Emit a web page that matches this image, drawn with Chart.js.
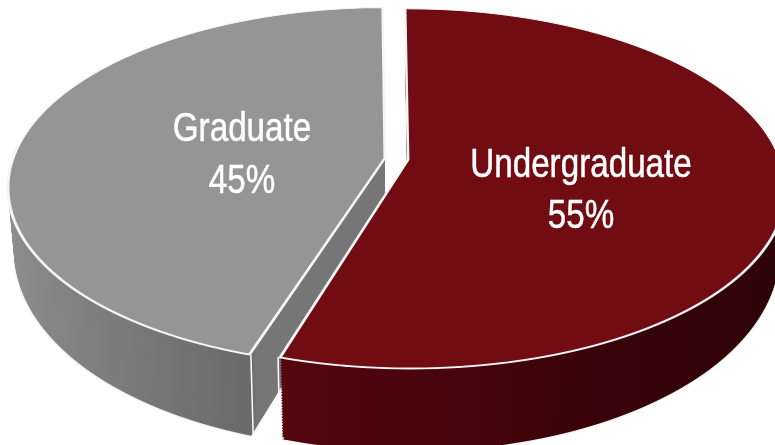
<!DOCTYPE html>
<html>
<head>
<meta charset="utf-8">
<title>Undergraduate / Graduate</title>
<script src="https://cdn.jsdelivr.net/npm/chart.js@4"></script>
<style>
html,body{margin:0;padding:0;background:#fff;overflow:hidden}
canvas{display:block}
</style>
</head>
<body>
<canvas id="pie" width="775" height="445"></canvas>
<script>
// === Data ===
const categories = ['Undergraduate','Graduate'];
const shares = [55,45];
const topColors = ['#710c13','#959595'];

// === Perspective of the pie (top ring and bottom ring) ===
const K = 0.16;              // perspective strength
const CX = 396.5;
const TOP = {cy:159, rx:372, ry:175};
const BOTTOM = {cy:222, rx:366, ry:192};
const LEVELS = 30;

function ring(d){
  return {
    cy:TOP.cy+(BOTTOM.cy-TOP.cy)*d,
    rx:TOP.rx+(BOTTOM.rx-TOP.rx)*d,
    ry:TOP.ry+(BOTTOM.ry-TOP.ry)*d
  };
}
// radius ArcElement really draws with once offset is set
function fullRadius(arc){
  const fix=1-Math.sin(Math.min(Math.PI,arc.circumference));
  return arc.outerRadius+(arc.options.offset||0)/4*fix;
}

// draw one arc element of the chart through the projection, row by row
function paintArc(ctx,arc,d,step,opts){
  const r=ring(d), Rs=fullRadius(arc), saved=arc.options;
  arc.options=Object.assign({},saved,opts);
  const y0=Math.floor(r.cy-r.ry/(1+K))-6, y1=Math.ceil(r.cy+r.ry/(1-K))+6;
  for(let y=y0;y<y1;y+=step){
    const t=y+step/2-r.cy, v=t/(r.ry+K*t), q=1-K*v;
    const a=r.rx/q/Rs, e=r.ry/(q*q)/Rs;
    ctx.save();
    ctx.beginPath(); ctx.rect(0,y,775,step); ctx.clip();
    ctx.setTransform(a,0,0,e,CX-a*arc.x,y+step/2-e*(arc.y+v*Rs));
    arc.draw(ctx);
    ctx.restore();
  }
  arc.options=saved;
}

// where a rim point of an arc lands on a given ring
function project(arc,angle,d){
  const r=ring(d), Rs=fullRadius(arc), o=(arc.options.offset||0)/4;
  const mid=(arc.startAngle+arc.endAngle)/2;
  const u=(Math.cos(mid)*o+Rs*Math.cos(angle))/Rs, v=(Math.sin(mid)*o+Rs*Math.sin(angle))/Rs;
  const q=1-K*v;
  return {x:CX+r.rx*u/q, y:r.cy+r.ry*v/q};
}

function wallGradient(ctx,arc,stops){
  const Rs=fullRadius(arc), g=ctx.createLinearGradient(arc.x-Rs,0,arc.x+Rs,0);
  stops.forEach(s=>g.addColorStop(s[0],s[1]));
  return g;
}
const wallStops = [
  [[0.36,'#55060e'],[0.7,'#3a0409'],[1,'#2b0306']],
  [[0,'#8f8f8f'],[0.349,'#6a6a6a'],[0.353,'#767676'],[1,'#767676']]
];

// === Plugin: extruded pie + labels ===
const pie3d = {
  id:'pie3d',
  beforeDatasetDraw(chart,args){
    const ctx=chart.ctx, arcs=args.meta.data;
    [1,0].forEach(i=>{
      const arc=arcs[i], grad=wallGradient(ctx,arc,wallStops[i]);
      paintArc(ctx,arc,1,1,{backgroundColor:grad,borderColor:'#f4f4f4',borderWidth:1});
      for(let l=LEVELS-1;l>0;l--){
        paintArc(ctx,arc,l/LEVELS,1,{backgroundColor:grad,borderWidth:0});
      }
      // white corner line of the wall
      const corner=i===0?arc.endAngle:arc.startAngle;
      const p=project(arc,corner,0), q=project(arc,corner,1);
      ctx.save();
      ctx.strokeStyle='#fff'; ctx.lineWidth=1.5;
      ctx.beginPath(); ctx.moveTo(p.x,p.y); ctx.lineTo(q.x,q.y); ctx.stroke();
      ctx.restore();
      paintArc(ctx,arc,0,1,{borderColor:'#f6f6f6',borderWidth:1.6});
    });
    return false;
  },
  afterDraw(chart){
    const ctx=chart.ctx, spots=[[581,177,228],[242,141,193]];
    ctx.fillStyle='#fff';
    ctx.strokeStyle='#fff';
    ctx.lineWidth=0.5;
    ctx.textAlign='center';
    ctx.textBaseline='alphabetic';
    ctx.font='40px "Liberation Sans",sans-serif';
    categories.forEach((c,i)=>{
      ctx.save();
      ctx.translate(spots[i][0],0);
      ctx.scale(0.83,1);   // condensed look, no narrow face installed
      ctx.fillText(c,0,spots[i][1]);
      ctx.strokeText(c,0,spots[i][1]);
      ctx.fillText(shares[i]+'%',0,spots[i][2]);
      ctx.strokeText(shares[i]+'%',0,spots[i][2]);
      ctx.restore();
    });
  }
};

// === Chart ===
new Chart(document.getElementById('pie'),{
  type:'pie',
  data:{labels:categories,datasets:[{data:shares,backgroundColor:topColors,offset:27,borderWidth:1,borderColor:'#f2f2f2'}]},
  options:{
    responsive:false,
    animation:false,
    devicePixelRatio:1,
    rotation:-0.5,
    layout:{padding:0},
    plugins:{legend:{display:false},tooltip:{enabled:false}}
  },
  plugins:[pie3d]
});
</script>
</body>
</html>
